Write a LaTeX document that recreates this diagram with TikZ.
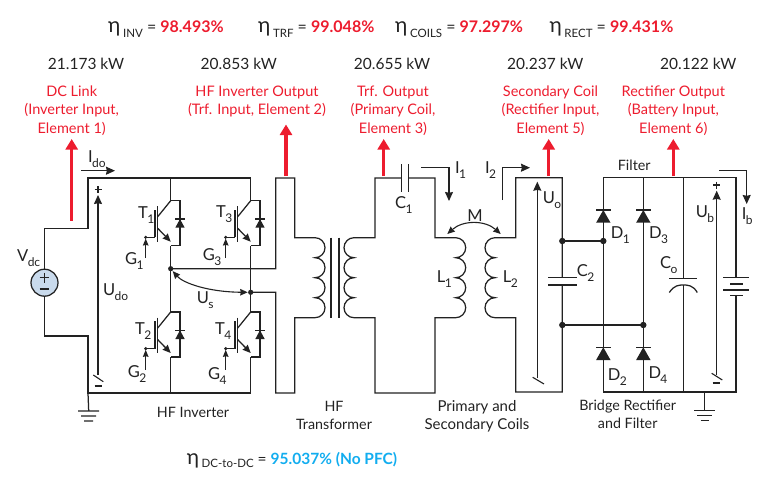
\documentclass[tikz,border=0pt]{standalone}
\usepackage{fontspec}
\setmainfont{Lato}
\usetikzlibrary{arrows.meta,calc}
\definecolor{rd}{HTML}{ED1C2E}
\definecolor{cy}{HTML}{12ADEF}
\definecolor{ink}{HTML}{222222}
\definecolor{srcfill}{HTML}{C9DAEC}
\newcommand{\sbs}[1]{\kern-0.6pt\raisebox{-0.6ex}{\fontsize{12}{12}\selectfont #1}}
\newcommand{\etaS}[1]{{\fontsize{21}{21}\selectfont η}\,\raisebox{-0.5ex}{\fontsize{11.5}{13}\selectfont #1}}
\tikzset{
  x=1pt,y=-1pt,
  wire/.style={draw=ink,line width=1.25pt,line join=miter},
  thin wire/.style={draw=ink,line width=1.1pt},
  tip/.style={-{Stealth[length=9pt,width=8pt,inset=0.8pt]},draw=ink,line width=1.1pt},
  smalltip/.style={-{Stealth[length=7pt,width=5.5pt,inset=0.6pt]},draw=ink,line width=1.1pt},
  twotip/.style={{Stealth[length=7.5pt,width=6.5pt,inset=0.6pt]}-{Stealth[length=7.5pt,width=6.5pt,inset=0.6pt]},draw=ink,line width=1.1pt},
  red arrow/.style={-{Triangle[length=10.5pt,width=12pt]},draw=rd,line width=3.4pt},
  lbl/.style={anchor=base west,inner sep=0pt,font=\fontsize{16.5}{18}\selectfont,text=ink},
  clbl/.style={lbl,anchor=north,align=center,font=\fontsize{14.3}{17.6}\selectfont},
  rlbl/.style={anchor=north,inner sep=0pt,align=center,text=rd,font=\fontsize{14.5}{18.6}\selectfont},
  power/.style={anchor=base,inner sep=0pt,text=ink,font=\fontsize{15.5}{17}\selectfont},
  eff/.style={anchor=base west,inner sep=0pt,text=ink,font=\fontsize{16}{18}\selectfont},
  dot/.style={fill=ink,draw=none},
  igbt/.pic={
    \draw[wire] (-15.7,9.3) -- (-15.7,36.6) (-25,36.6) -- (-15.7,36.6);
    \draw[wire] (-13,5.5) -- (-13,41);
    \draw[wire] (0,0) -- (-13,16);
    \draw[wire] (0,0) -- (9.3,0) -- (9.3,45) -- (0,45);
    \draw[draw=ink,line width=1.3pt,-{Stealth[length=8pt,width=7pt,inset=0.6pt]}] (-13,27.6) -- (0,41);
    \draw[wire] (4.4,18.3) -- (14.2,18.3);
    \fill[ink] (9.3,18.3) -- (14,27) -- (4.6,27) -- cycle;
    \fill[dot] (-25,36.6) circle (1.7pt);
    \draw[smalltip] (-25,57.5) -- (-25,37.8);
  },
  diodeup/.pic={
    \fill[ink] (0,0) -- (7.2,12.7) -- (-7.2,12.7) -- cycle;
    \draw[wire] (-7.2,0) -- (7.2,0);
  }
}
\begin{document}
\begin{tikzpicture}
\useasboundingbox (0,0) rectangle (770,484);

% named grid points
\coordinate (tl) at (88,178);
\coordinate (bl) at (88,393);
\coordinate (s) at (44.5,282.7);
\coordinate (a) at (170.7,178);
\coordinate (a2) at (170.7,393);
\coordinate (b) at (250.7,178);
\coordinate (b2) at (250.7,393);
\coordinate (j1) at (170.7,268.7);
\coordinate (j2) at (250.7,292.3);

% DC source and input rails
\node[circle,draw=ink,line width=1.25pt,fill=srcfill,minimum size=27pt,inner sep=0pt] (src) at (s) {};
\draw[wire] (src.north) -- (44.5,228.7) -- (88,228.7) -- (tl) -- (b);
\draw[wire] (src.south) -- (44.5,336) -- (88,336) -- (bl) -- (b2);
\draw[wire] (39.7,277.7) -- (49.3,277.7) (44.5,272.9) -- (44.5,282.5);
\draw[wire] (39.7,289) -- (49.3,289);

% inverter legs
\draw[wire] (a) -- (170.7,200.7) (170.7,245.7) -- (170.7,312) (170.7,357.3) -- (a2);
\draw[wire] (b) -- (250.7,200.7) (250.7,245.7) -- (250.7,312) (250.7,357.3) -- (b2);
\pic at (170.7,200.7) {igbt};
\pic at (250.7,200.7) {igbt};
\pic at (170.7,312) {igbt};
\pic at (250.7,312) {igbt};
\fill[dot] (j1) circle (2.6pt) (j2) circle (2.6pt);
\draw[twotip] ($(j1)+(2,2.4)$) .. controls (183,283) and (208,292) .. ($(j2)+(-3,0)$);

% inverter output to transformer
\draw[wire] (j1) -- (275.7,268.7) -- (275.7,178) -- (294.7,178) -- (294.7,237.7) -- (315,237.7)
  arc[start angle=90,end angle=-90,radius=10pt]
  arc[start angle=90,end angle=-90,radius=10pt]
  arc[start angle=90,end angle=-90,radius=10pt]
  arc[start angle=90,end angle=-90,radius=10pt] -- (294.7,317.7) -- (294.7,393) -- (275.7,393) -- (275.7,292.3) -- (j2);
\draw[wire] (331,237.7) -- (331,318) (339,237.7) -- (339,318);
\draw[wire] (408.3,178) -- (435,178) -- (435,237.7) -- (455.7,237.7)
  arc[start angle=90,end angle=-90,radius=10pt]
  arc[start angle=90,end angle=-90,radius=10pt]
  arc[start angle=90,end angle=-90,radius=10pt]
  arc[start angle=90,end angle=-90,radius=10pt] -- (435,317.7) -- (435,393) -- (375,393) -- (375,317.7) -- (354,317.7)
  arc[start angle=270,end angle=90,radius=10pt]
  arc[start angle=270,end angle=90,radius=10pt]
  arc[start angle=270,end angle=90,radius=10pt]
  arc[start angle=270,end angle=90,radius=10pt] -- (375,237.7) -- (375,178) -- (401.7,178);
\draw[wire] (401.7,164) -- (401.7,192) (408.3,164) -- (408.3,192);

% secondary side
\draw[wire] (562.3,277.3) -- (562.3,177.7) -- (515.7,177.7) -- (515.7,237.7) -- (495,237.7)
  arc[start angle=90,end angle=270,radius=10pt]
  arc[start angle=90,end angle=270,radius=10pt]
  arc[start angle=90,end angle=270,radius=10pt]
  arc[start angle=90,end angle=270,radius=10pt] -- (515.7,317.7) -- (515.7,392) -- (562.3,392) -- (562.3,285);
\draw[wire] (548.3,277.3) -- (576.7,277.3) (548.3,285) -- (576.7,285);
\fill[dot] (562.3,241) circle (3.2pt) (603.3,241) circle (3.2pt) (562.3,325) circle (3.2pt) (643.3,325) circle (3.2pt);
\draw[wire] (562.3,241) -- (603.3,241) (562.3,325) -- (643.3,325);

% bridge and filter
\draw[wire] (603.3,392) -- (603.3,177.7) -- (736,177.7) -- (736,277.7);
\draw[wire] (643.3,177.7) -- (643.3,392);
\draw[wire] (683.3,177.7) -- (683.3,278.3) (683.3,285) -- (683.3,392);
\draw[wire] (603.3,392) -- (736,392) -- (736,295.7);
\pic at (603.3,210) {diodeup};
\pic at (643.3,210) {diodeup};
\pic at (603.3,347.3) {diodeup};
\pic at (643.3,347.3) {diodeup};
\draw[wire] (669.3,278.3) -- (697.3,278.3);
\draw[wire] (669.3,292.5) .. controls (674,285.2) and (679,285) .. (683.3,285) .. controls (688,285) and (693,285.2) .. (697.3,292.5);
\draw[wire] (723,277.7) -- (749.3,277.7) (723,290) -- (749.3,290) (730,284) -- (742.7,284) (730,295.7) -- (742.7,295.7);

% grounds
\draw[wire] (704.3,392) -- (704.3,410.7) (694,410.7) -- (715,410.7) (697,415.7) -- (712,415.7) (700.7,420.7) -- (709,420.7);
\draw[wire] (bl) -- (88.7,411) (78,411) -- (99,411) (81,416) -- (96,416) (84,421) -- (93,421);

% voltage arrows
\draw[tip] (98,375) -- (98,195);
\draw[thin wire] (93.3,375) -- (103.3,381.7);
\draw[tip] (537.3,378) -- (537.3,181.7);
\draw[thin wire] (532.7,377.3) -- (544,384);
\draw[tip] (716.7,375) -- (716.7,190.7);
\draw[thin wire] (711.7,373.3) -- (722.3,380);
\draw[thin wire] (94.5,189.5) -- (101.5,189.5) (98,186) -- (98,193);
\draw[thin wire] (94.5,386) -- (101.5,386);
\draw[thin wire] (713,185) -- (720,185) (716.5,181.5) -- (716.5,188.5);
\draw[thin wire] (712.5,383) -- (719.5,383);

% current arrows
\draw[tip] (81,170.7) -- (115,170.7);
\draw[tip] (421,167.3) -- (449,167.3) -- (449,201);
\draw[tip] (502.3,200) -- (502.3,167.7) -- (530,167.7);
\draw[tip] (719.3,170.7) -- (746.7,170.7) -- (746.7,204);
\draw[twotip] (447.3,234) .. controls (463,220) and (485,220) .. (500.7,234);

% red arrows
\draw[red arrow] (71.7,220.7) -- (71.7,139);
\draw[red arrow] (286,176) -- (286,124.5);
\draw[red arrow] (383.7,176) -- (383.7,139);
\draw[red arrow] (548.7,176) -- (548.7,139);
\draw[red arrow] (673.3,176) -- (673.3,139);

% efficiencies
\node[eff] (e1) at (108,33) {\etaS{INV} = \textcolor{rd}{\textbf{98.493\%}}};
\node[eff] (e2) at (258,33) {\etaS{TRF} = \textcolor{rd}{\textbf{99.048\%}}};
\node[eff] (e3) at (395,33) {\etaS{COILS} = \textcolor{rd}{\textbf{97.297\%}}};
\node[eff] (e4) at (549.3,33) {\etaS{RECT} = \textcolor{rd}{\textbf{99.431\%}}};
\node[eff,font=\fontsize{15.5}{18}\selectfont] (e5) at (186.7,464) {\etaS{DC-to-DC} = \textcolor{cy}{\textbf{95.037\% (No PFC)}}};

% powers
\node[power] (p1) at (86,69.3) {21.173 kW};
\node[power] (p2) at (238.8,69.3) {20.853 kW};
\node[power] (p3) at (392,69.3) {20.655 kW};
\node[power] (p4) at (545.3,69.3) {20.237 kW};
\node[power] (p5) at (698.3,69.3) {20.122 kW};

% measurement points
\node[rlbl] (r1) at (71.7,85.5) {DC Link\\(Inverter Input,\\Element 1)};
\node[rlbl] (r2) at (257,85.5) {HF Inverter Output\\(Trf. Input, Element 2)};
\node[rlbl] (r3) at (393,85.5) {Trf. Output\\(Primary Coil,\\Element 3)};
\node[rlbl] (r4) at (550.5,85.5) {Secondary Coil\\(Rectifier Input,\\Element 5)};
\node[rlbl] (r5) at (673.3,85.5) {Rectifier Output\\(Battery Input,\\Element 6)};

% component labels
\node[lbl] (vdc) at (17,261.7) {V\sbs{dc}};
\node[lbl] (ido) at (88,162) {I\sbs{do}};
\node[lbl] (t1) at (138,218) {T\sbs{1}};
\node[lbl] (t3) at (216,217) {T\sbs{3}};
\node[lbl] (t2) at (135,334) {T\sbs{2}};
\node[lbl] (t4) at (215,334) {T\sbs{4}};
\node[lbl] (g1) at (125,264.3) {G\sbs{1}};
\node[lbl] (g3) at (202.7,260) {G\sbs{3}};
\node[lbl] (g2) at (127.7,377.7) {G\sbs{2}};
\node[lbl] (g4) at (208,379) {G\sbs{4}};
\node[lbl] (udo) at (103,295) {U\sbs{do}};
\node[lbl] (us) at (196.7,303) {U\sbs{s}};
\node[lbl] (c1) at (395,208) {C\sbs{1}};
\node[lbl,anchor=base] (m) at (475,221.7) {M};
\node[lbl] (i1) at (455,173) {I\sbs{1}};
\node[lbl] (i2) at (485,173) {I\sbs{2}};
\node[lbl] (l1) at (436.7,282) {L\sbs{1}};
\node[lbl] (l2) at (502.7,282) {L\sbs{2}};
\node[lbl] (uo) at (542.7,203) {U\sbs{o}};
\node[lbl] (c2) at (576.7,276.7) {C\sbs{2}};
\node[lbl] (d1) at (610.7,238) {D\sbs{1}};
\node[lbl] (d3) at (649,238) {D\sbs{3}};
\node[lbl] (d2) at (607.7,380) {D\sbs{2}};
\node[lbl] (d4) at (648.3,378) {D\sbs{4}};
\node[lbl] (co) at (660,268) {C\sbs{o}};
\node[lbl] (ub) at (695.7,217) {U\sbs{b}};
\node[lbl] (ib) at (741.7,219.3) {I\sbs{b}};
\node[lbl,font=\fontsize{14.3}{17}\selectfont] (filter) at (617.7,170.7) {Filter};

% block captions
\node[clbl] (hfi) at (193,407) {HF Inverter};
\node[clbl] (hft) at (334,401) {HF\\Transformer};
\node[clbl,font=\fontsize{15}{17.6}\selectfont] (psc) at (477,400.5) {Primary and\\Secondary Coils};
\node[clbl] (brf) at (627.7,400) {Bridge Rectifier\\and Filter};
\end{tikzpicture}
\end{document}
